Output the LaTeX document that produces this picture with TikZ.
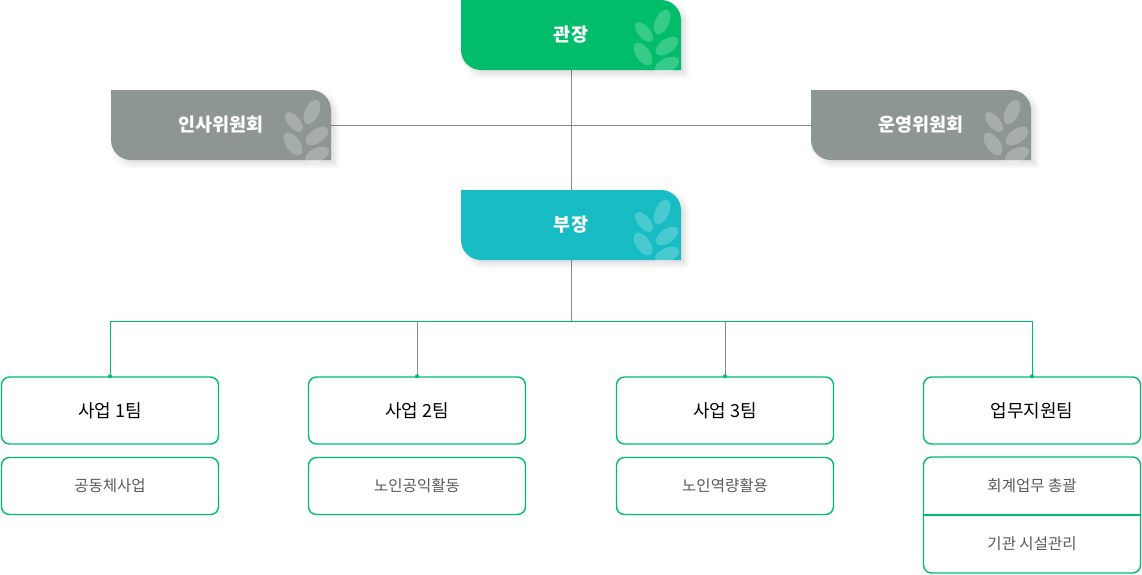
\documentclass[tikz,border=0pt]{standalone}
\usepackage{fontspec}
\setmainfont{Noto Sans CJK KR}
\usetikzlibrary{shadows.blur}
\definecolor{gA}{HTML}{00BC6B}
\definecolor{tA}{HTML}{17BCC4}
\definecolor{grA}{HTML}{8E9693}
\definecolor{lnA}{HTML}{8A8A8A}
\tikzset{
 headbox/.style={minimum width=220pt,minimum height=70pt,inner sep=0,text=white,font=\bfseries\fontsize{18.5}{22}\selectfont},
 teambox/.style={draw=gA,line width=1.4pt,rounded corners=8pt,minimum width=217pt,minimum height=67pt,inner sep=0,font=\fontsize{18}{21}\selectfont},
 subbox/.style={draw=gA,line width=1.4pt,rounded corners=8pt,minimum width=217pt,minimum height=57pt,inner sep=0,text=black!65,font=\fontsize{15.5}{18}\selectfont},
 conn/.style={draw=lnA,line width=0.6pt},
 gconn/.style={draw=gA,line width=0.8pt},
 dotm/.style={circle,fill=gA,inner sep=0,minimum size=4pt}
}
\newcommand{\headshape}[4]{% x y color name
 \fill[#3,blur shadow={shadow xshift=4pt,shadow yshift=-4pt,shadow blur radius=6pt,shadow opacity=15}]
  (#1,#2) -- (#1+200,#2) [rounded corners=20pt]-- (#1+220,#2) [sharp corners]-- (#1+220,#2-70) [rounded corners=20pt]-- (#1,#2-70) [sharp corners]-- (#1,#2) -- cycle;
 \begin{scope}[white,opacity=0.22]
  \fill[rotate around={-25:(#1+201,#2-22)}] (#1+201,#2-22) ellipse (7pt and 13pt);
  \fill[rotate around={40:(#1+183,#2-32)}] (#1+183,#2-32) ellipse (6pt and 12pt);
  \fill[rotate around={-55:(#1+206,#2-46)}] (#1+206,#2-46) ellipse (7pt and 13pt);
  \fill[rotate around={35:(#1+182,#2-54)}] (#1+182,#2-54) ellipse (7pt and 13pt);
  \fill[rotate around={-65:(#1+206,#2-65)}] (#1+206,#2-65) ellipse (7pt and 13pt);
 \end{scope}
 \node[headbox] (#4) at (#1+110,#2-35) {};
}
\begin{document}
\begin{tikzpicture}[x=1pt,y=1pt]
\useasboundingbox (0,0) rectangle (1142,-574);
\coordinate (j2) at (571,-321);
\draw[conn] (571,-70) -- (571,-190);
\draw[conn] (331,-125) -- (811,-125);
\draw[conn] (571,-260) -- (j2);
\draw[gconn] (110,-376) -- (110,-321) -- (1032,-321) -- (1032,-376);
\draw[conn] (417,-321) -- (417,-376);
\draw[conn] (725,-321) -- (725,-376);
\begin{scope}
\clip (0,0) rectangle (1142,-574);
\headshape{461}{0}{gA}{gj}
\headshape{111}{-90}{grA}{ins}
\headshape{811}{-90}{grA}{uny}
\headshape{461}{-190}{tA}{bj}
\end{scope}
\node[headbox] at (gj) {관장};
\node[headbox] at (ins) {인사위원회};
\node[headbox] at (uny) {운영위원회};
\node[headbox] at (bj) {부장};
\foreach \x/\n/\t/\s in {110/t1/사업 1팀/공동체사업,417/t2/사업 2팀/노인공익활동,725/t3/사업 3팀/노인역량활용}{
 \node[teambox] (\n) at (\x,-410.5) {\t};
 \node[subbox] (\n s) at (\x,-486) {\s};
 \node[dotm] at (\n.north) {};
}
\node[teambox] (t4) at (1032,-410.5) {업무지원팀};
\node[dotm] at (t4.north) {};
\node[subbox,minimum height=116pt] (t4s) at (1032,-515) {};
\draw[gA,line width=1.4pt] (t4s.west|-0,-515) -- (t4s.east|-0,-515);
\node[text=black!65,font=\fontsize{15.5}{18}\selectfont] (s41) at (1032,-486) {회계업무 총괄};
\node[text=black!65,font=\fontsize{15.5}{18}\selectfont] (s42) at (1032,-544) {기관 시설관리};
\end{tikzpicture}
\end{document}
